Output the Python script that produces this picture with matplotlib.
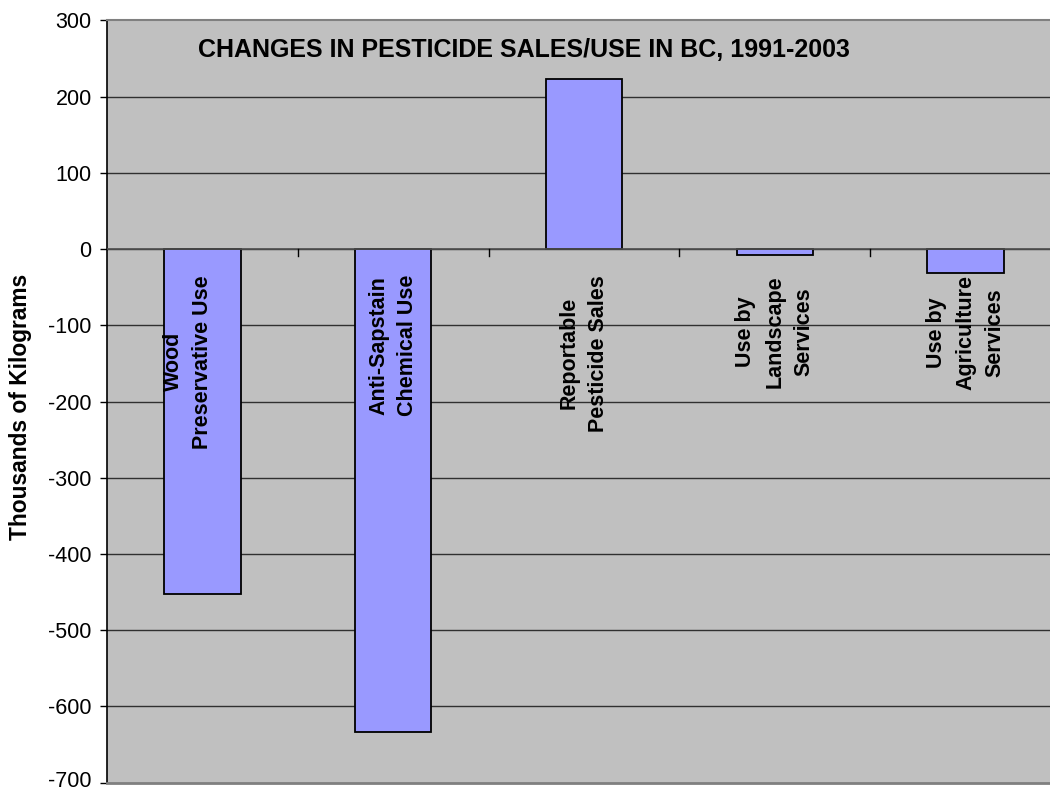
import numpy as np
import matplotlib
matplotlib.use("Agg")
import matplotlib.pyplot as plt
import matplotlib.transforms as mtransforms

plt.rcParams['font.family'] = ['Liberation Sans', 'DejaVu Sans']

# data (thousands of kg, change 1991-2003)
categories = ["Wood\nPreservative Use\n ", "Anti-Sapstain\nChemical Use",
              "Reportable\nPesticide Sales", "Use by\nLandscape\nServices",
              "Use by\nAgriculture\nServices"]
changes = [-452, -634, 223, -8, -31]
yticks = np.arange(-700, 301, 100)

fig = plt.figure(figsize=(10.5, 7.9), dpi=100)
ax = fig.add_axes([0.1019, 0.0092, 0.9086, 0.9651])
ax.set_facecolor('#C0C0C0')

x = np.arange(len(categories)) + 0.5
ax.bar(x, changes, width=0.40, color='#9999FF', edgecolor='black',
       linewidth=1.3, zorder=3)

ax.set_xlim(0, len(categories))
ax.set_ylim(-700, 300)
ax.set_yticks(yticks)
ax.set_yticklabels([str(v) for v in yticks], fontsize=15.5)
ax.tick_params(axis='y', direction='out', length=5, width=1, color='black', pad=6)
ax.set_xticks([])

# nudge the lowest tick label up so it stays inside the figure
lift = mtransforms.ScaledTranslation(0, 3 / 72, fig.dpi_scale_trans)
ax.get_yticklabels()[0].set_transform(ax.get_yticklabels()[0].get_transform() + lift)

# gridlines
for v in yticks[1:-1]:
    ax.axhline(v, color='#303030', linewidth=1, zorder=1)

# category axis at zero with tick marks between categories
ax.axhline(0, color='#505050', linewidth=1.2, zorder=4)
for b in range(1, len(categories)):
    ax.plot([b, b], [0, -9], color='black', linewidth=1, zorder=4)

for xi, lab in zip(x, categories):
    ax.text(xi, -34, lab, rotation=90, ha='center', va='top',
            multialignment='center', linespacing=1.5,
            fontsize=15.5, fontweight='bold', zorder=5)

ax.spines['left'].set_color('black')
ax.spines['left'].set_linewidth(1.2)
ax.spines['top'].set_color('#808080')
ax.spines['top'].set_linewidth(1.5)
ax.spines['bottom'].set_color('#808080')
ax.spines['bottom'].set_linewidth(2)
ax.spines['right'].set_visible(False)

ax.set_ylabel('Thousands of Kilograms', fontsize=16.4, fontweight='bold')
ax.yaxis.set_label_coords(-0.0786, 0.493)

fig.text(524 / 1050, 1 - 57 / 790, 'CHANGES IN PESTICIDE SALES/USE IN BC, 1991-2003',
         ha='center', va='baseline', fontsize=18, fontweight='bold')

fig.savefig('out.png', dpi=100)
